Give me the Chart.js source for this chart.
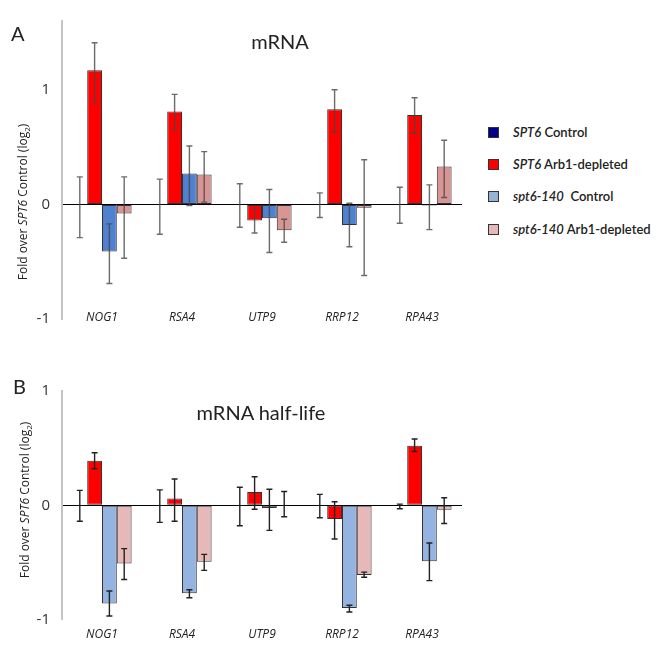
<!DOCTYPE html>
<html>
<head>
<meta charset="utf-8">
<script src="https://cdn.jsdelivr.net/npm/chart.js@4.4.1/dist/chart.umd.min.js"></script>
<style>
  body{margin:0;background:#fff;color:#222;font-family:Lato,'Open Sans',sans-serif}
  #wrap{position:relative;width:661px;height:651px;overflow:hidden}
  canvas{position:absolute;left:0}
  .txt{position:absolute;white-space:nowrap}
  .panel{font-size:20px;transform:translateY(-50%)}
  .ttl{font-size:20px;transform:translate(-50%,-50%)}
  .ytl{font-family:'Open Sans',sans-serif;font-size:12px;transform:translate(-50%,-50%) rotate(-90deg)}
  .ytl sub{font-size:8px}
  .leg{position:absolute;left:488px;font-size:13px;font-weight:600;white-space:nowrap;transform:translateY(-50%)}
  .sw{display:inline-block;width:9px;height:9px;border:1px solid #333;margin-right:14px;vertical-align:-1px}
</style>
</head>
<body>
<div id="wrap">
  <canvas id="mrna" width="470" height="340" style="top:0"></canvas>
  <canvas id="half" width="470" height="275" style="top:370px"></canvas>

  <div class="txt panel" style="left:11px;top:33px">A</div>
  <div class="txt panel" style="left:13px;top:386px">B</div>
  <div class="txt ttl" style="left:280px;top:41px">mRNA</div>
  <div class="txt ttl" style="left:261px;top:412px">mRNA half-life</div>
  <div class="txt ytl" style="left:23px;top:202px">Fold over <i>SPT6</i> Control (log<sub>2</sub>)</div>
  <div class="txt ytl" style="left:25px;top:500px">Fold over <i>SPT6</i> Control (log<sub>2</sub>)</div>

  <div class="leg" style="top:132px"><span class="sw" style="background:#00008b"></span><i>SPT6</i> Control</div>
  <div class="leg" style="top:164px"><span class="sw" style="background:#ff0000"></span><i>SPT6</i> Arb1-depleted</div>
  <div class="leg" style="top:196px"><span class="sw" style="background:#95b3d7"></span><i>spt6-140</i>&nbsp; Control</div>
  <div class="leg" style="top:229px"><span class="sw" style="background:#e6b9b8"></span><i>spt6-140</i> Arb1-depleted</div>
</div>

<script>
/* ---------- data (log2 fold over SPT6 control) ---------- */
const genes = ['NOG1','RSA4','UTP9','RRP12','RPA43'];

/* A · mRNA : bar heights and whisker ends [low, high] */
const mrnaCtl      = [0, 0, 0, 0, 0];
const mrnaCtlErr   = [[-0.29,0.24],[-0.26,0.22],[-0.20,0.18],[-0.115,0.10],[-0.165,0.15]];
const mrnaArb      = [1.17, 0.81, -0.14, 0.83, 0.78];
const mrnaArbErr   = [[0.89,1.41],[0.65,0.96],[-0.25,-0.035],[0.63,1.0],[0.62,0.93]];
const mrnaMutCtl   = [-0.41, 0.27, -0.12, -0.18, -0.01];
const mrnaMutCtlErr= [[-0.69,-0.17],[-0.01,0.51],[-0.42,0.13],[-0.37,0.01],[-0.22,0.17]];
const mrnaMutArb   = [-0.08, 0.26, -0.225, -0.03, 0.33];
const mrnaMutArbErr= [[-0.47,0.24],[0.02,0.46],[-0.33,-0.13],[-0.62,0.39],[0.06,0.56]];

/* B · mRNA half-life */
const halfCtl      = [0, 0, 0, 0, 0];
const halfCtlErr   = [[-0.14,0.13],[-0.15,0.135],[-0.18,0.157],[-0.11,0.095],[-0.03,0.01]];
const halfArb      = [0.39, 0.06, 0.115, -0.12, 0.52];
const halfArbErr   = [[0.32,0.46],[-0.14,0.23],[-0.035,0.25],[-0.295,0.03],[0.47,0.58]];
const halfMutCtl   = [-0.86, -0.77, -0.025, -0.90, -0.49];
const halfMutCtlErr= [[-0.97,-0.75],[-0.81,-0.74],[-0.22,0.14],[-0.935,-0.875],[-0.66,-0.33]];
const halfMutArb   = [-0.51, -0.495, 0.005, -0.61, -0.04];
const halfMutArbErr= [[-0.65,-0.38],[-0.57,-0.43],[-0.10,0.12],[-0.63,-0.585],[-0.16,0.065]];

const yTicks = [-1, 0, 1];

/* ---------- error bars drawn through the y scale ---------- */
const whiskers = {
  id:'whiskers',
  afterDatasetsDraw(chart, args, opts){
    const {ctx, scales:{y}} = chart;
    ctx.save();
    ctx.strokeStyle = opts.color;
    ctx.lineWidth   = opts.width;
    chart.data.datasets.forEach((ds,i)=>{
      chart.getDatasetMeta(i).data.forEach((bar,j)=>{
        const [lo,hi] = ds.whisker[j];
        const y0 = y.getPixelForValue(lo), y1 = y.getPixelForValue(hi);
        ctx.beginPath();
        ctx.moveTo(bar.x, y0);   ctx.lineTo(bar.x, y1);
        ctx.moveTo(bar.x-3, y0); ctx.lineTo(bar.x+3, y0);
        ctx.moveTo(bar.x-3, y1); ctx.lineTo(bar.x+3, y1);
        ctx.stroke();
      });
    });
    ctx.restore();
  }
};

/* gene names sit level with the bottom of the y axis in panel A,
   so they are placed from the x scale by hand instead of as ticks */
const geneLabels = {
  id:'geneLabels',
  afterDraw(chart, args, opts){
    const {ctx, chartArea, scales:{x}} = chart;
    ctx.save();
    ctx.font = 'italic 12px "Open Sans"';
    ctx.fillStyle = '#222';
    ctx.textAlign = 'center';
    ctx.textBaseline = 'middle';
    chart.data.labels.forEach((g,j)=>
      ctx.fillText(g, x.getPixelForValue(j), chartArea.bottom + opts.offset));
    ctx.restore();
  }
};

const set = (data, whisker, color) => ({
  data, whisker, backgroundColor:color, borderColor:'#333', borderWidth:1,
  borderSkipped:false, barPercentage:1, categoryPercentage:0.74
});

function build(id, sets, yMin, yMax, topPad, labelOff, axisH, errColor){
  return new Chart(document.getElementById(id),{
    type:'bar',
    data:{labels:genes, datasets:sets},
    options:{
      responsive:false, animation:false,
      layout:{padding:{top:topPad,right:8,left:0,bottom:0}},
      plugins:{legend:{display:false}, tooltip:{enabled:false},
               whiskers:{color:errColor, width:1.4},
               geneLabels:{offset:labelOff}},
      scales:{
        x:{grid:{display:false}, border:{display:false}, ticks:{display:false},
           afterFit:s=>{ s.height = axisH; }},
        y:{min:yMin, max:yMax,
           afterBuildTicks:s=>{ s.ticks = yTicks.map(v=>({value:v})); },
           afterFit:s=>{ s.width = 62; },
           border:{color:'#c4c4c4', width:2},
           grid:{drawTicks:false, lineWidth:1,
                 color:c=> c.tick && c.tick.value===0 ? '#000' : 'rgba(0,0,0,0)'},
           ticks:{padding:12, color:'#333', font:{family:'Open Sans', size:15}}}
      }
    },
    plugins:[whiskers, geneLabels]
  });
}

build('mrna',[
  set(mrnaCtl,    mrnaCtlErr,    '#00008b'),
  set(mrnaArb,    mrnaArbErr,    '#ff0000'),
  set(mrnaMutCtl, mrnaMutCtlErr, '#4f81d0'),
  set(mrnaMutArb, mrnaMutArbErr, '#d99594')
], -1, 1.6, 12, -1, 20, 'rgba(70,70,70,0.8)');

build('half',[
  set(halfCtl,    halfCtlErr,    '#00008b'),
  set(halfArb,    halfArbErr,    '#ff0000'),
  set(halfMutCtl, halfMutCtlErr, '#95b3e0'),
  set(halfMutArb, halfMutArbErr, '#e6b9b8')
], -1, 1, 16.5, 15.5, 25.5, '#222');
</script>
</body>
</html>
